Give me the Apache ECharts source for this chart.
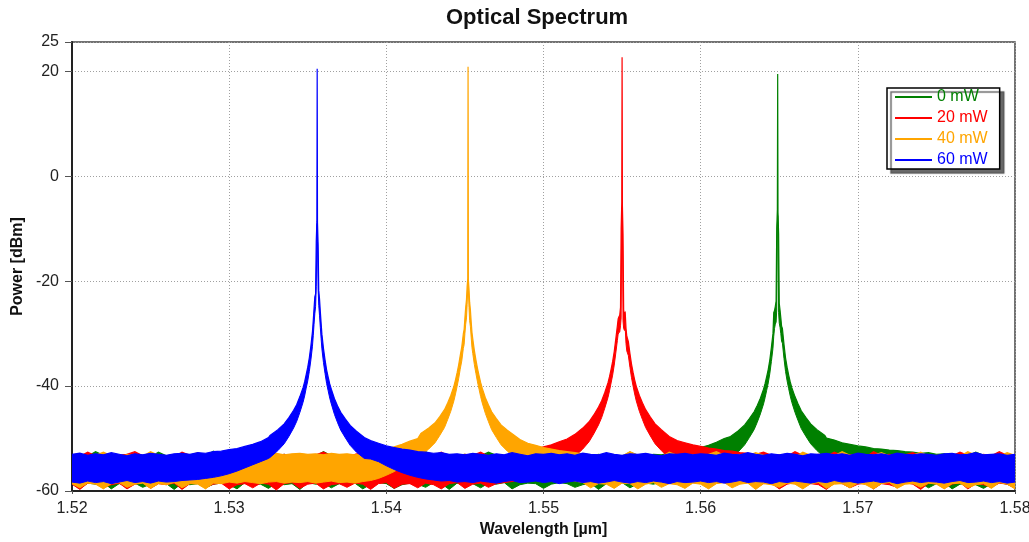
<!DOCTYPE html>
<html>
<head>
<meta charset="utf-8">
<title>Optical Spectrum</title>
<script src="https://cdn.jsdelivr.net/npm/echarts@6/dist/echarts.min.js"></script>
<style>
html, body { margin: 0; padding: 0; background: #fff; }
#main { width: 1029px; height: 542px; }
</style>
</head>
<body>
<div id="main"></div>
<script type="text/javascript">
// wavelength grid for the noise floor: 1.5200 .. 1.5800 step 0.0005 (121 points)
const wlStart = 1.52;
const wlStep = 0.0005;

const seriesNames = ['0 mW', '20 mW', '40 mW', '60 mW'];
const seriesColors = ['#008000', '#ff0000', '#ffa500', '#0000ff'];
const peakCenter = [1.5649, 1.5550, 1.5452, 1.5356];

// offsets (um) around each laser line where the spectrum is read more finely
const peakOffset = [-0.0030, -0.0025, -0.0021, -0.0018, -0.0015, -0.0013, -0.0011, -0.0009, -0.0008, -0.0007,
  -0.0006, -0.0005, -0.0004, -0.0003, -0.00025, -0.0002, -0.00015, -0.0001, -0.00006, -0.00002, 0,
  0.00002, 0.00006, 0.0001, 0.00015, 0.0002, 0.00025, 0.0003, 0.0004, 0.0005, 0.0006,
  0.0007, 0.0008, 0.0009, 0.0011, 0.0013, 0.0015, 0.0018, 0.0021, 0.0025, 0.0030];

// upper / lower edge of the noisy trace on the grid (null = covered by the peak detail)
const greenHi = [
  -53.3, -53.1, -53.4, -52.5, -53.2, -53.5, -53.3, -53.0, -53.4, -53.2,
  -53.5, -52.6, -53.3, -53.1, -53.4, -53.2, -53.5, -53.3, -52.4, -53.2,
  -53.4, -53.1, -53.3, -53.5, -52.7, -53.2, -53.4, -53.0, -53.3, -53.5,
  -53.2, -53.4, -52.5, -53.3, -53.1, -53.4, -53.2, -53.5, -53.0, -52.6,
  -53.3, -53.1, -53.4, -53.2, -53.5, -52.5, -53.3, -53.1, -53.4, -53.2,
  -53.0, -53.4, -53.3, -52.6, -53.2, -53.5, -53.1, -53.3, -53.4, -52.7,
  -53.2, -53.4, -53.1, -53.3, -52.5, -53.2, -53.4, -53.0, -53.3, -53.1,
  -53.4, -52.6, -53.2, -53.3, -53.0, -53.1, -52.8, -52.6, -52.3, -52.0,
  -51.7, -51.3, -50.7, -50.0, null, null, null, null, null, null,
  null, null, null, null, null, null, -49.9, -50.3, -50.8, -51.1,
  -51.4, -51.6, -51.9, -52.0, -52.2, -52.3, -52.5, -52.6, -52.8, -52.7,
  -53.0, -52.9, -53.2, -53.1, -53.3, -52.6, -53.2, -53.4, -53.1, -53.3,
  -53.2];
const greenLo = [
  -58.6, -59.5, -58.5, -58.7, -58.4, -59.6, -58.6, -58.8, -58.5, -59.3,
  -58.7, -58.4, -58.6, -59.7, -58.5, -58.8, -58.6, -59.4, -58.7, -58.5,
  -58.8, -59.6, -58.4, -58.6, -58.7, -59.5, -58.5, -58.8, -58.6, -59.7,
  -58.4, -58.7, -58.5, -59.4, -58.6, -58.8, -58.5, -59.6, -58.7, -58.4,
  -58.6, -59.5, -58.8, -58.5, -58.7, -59.3, -58.4, -58.6, -59.7, -58.5,
  -58.8, -58.6, -59.4, -58.5, -58.7, -58.4, -59.6, -58.8, -58.5, -58.6,
  -59.5, -58.7, -58.4, -58.6, -59.3, -58.8, -58.5, -59.7, -58.6, -58.7,
  -58.4, -59.4, -58.6, -58.5, -58.7, -58.3, -58.1, -57.8, -57.3, -56.8,
  -56.1, -55.4, -54.6, -53.8, null, null, null, null, null, null,
  null, null, null, null, null, null, -53.6, -54.2, -54.9, -55.5,
  -56.0, -56.5, -56.9, -57.3, -57.6, -57.9, -58.1, -58.3, -58.5, -59.4,
  -58.6, -58.4, -59.6, -58.7, -58.5, -58.8, -59.5, -58.6, -58.4, -58.7,
  -59.3];

const redHi = [
  -53.2, -53.4, -52.6, -53.3, -53.1, -53.5, -53.2, -53.0, -52.5, -53.3,
  -53.4, -53.1, -53.3, -53.5, -52.6, -53.2, -53.4, -53.1, -53.3, -53.0,
  -52.7, -53.4, -53.2, -53.5, -53.1, -52.5, -53.3, -53.0, -53.4, -53.2,
  -53.5, -53.1, -52.6, -53.3, -53.4, -53.2, -53.0, -52.7, -53.3, -53.1,
  -53.4, -53.2, -52.5, -53.3, -53.5, -53.1, -53.2, -52.6, -53.4, -53.3,
  -53.0, -53.2, -52.6, -53.4, -53.1, -53.3, -52.8, -52.6, -52.2, -52.0,
  -51.6, -51.2, -50.6, -50.1, null, null, null, null, null, null,
  null, null, null, null, null, null, null, -50.4, -50.8, -51.2,
  -51.5, -51.8, -52.0, -52.3, -52.4, -52.7, -52.8, -53.0, -52.6, -53.2,
  -53.1, -53.4, -52.5, -53.2, -53.3, -53.0, -53.4, -52.6, -53.2, -53.1,
  -53.3, -53.5, -52.5, -53.2, -53.0, -53.4, -53.1, -52.7, -53.3, -53.2,
  -53.5, -53.1, -53.3, -52.6, -53.2, -53.4, -53.0, -53.3, -52.5, -53.2,
  -53.4];
const redLo = [
  -58.7, -59.7, -58.5, -58.6, -59.4, -58.8, -58.5, -59.6, -58.7, -58.4,
  -59.5, -58.6, -58.8, -58.5, -59.7, -58.6, -58.4, -59.3, -58.7, -58.5,
  -59.6, -58.8, -58.6, -59.4, -58.5, -58.7, -59.8, -58.6, -58.4, -59.5,
  -58.7, -58.5, -59.6, -58.8, -58.6, -59.3, -58.5, -58.7, -59.7, -58.6,
  -58.4, -59.5, -58.7, -58.6, -59.4, -58.5, -58.8, -59.6, -58.6, -58.4,
  -59.5, -58.7, -58.5, -59.3, -58.6, -58.4, -58.2, -57.9, -57.5, -57.0,
  -56.4, -55.5, -54.6, -53.7, null, null, null, null, null, null,
  null, null, null, null, null, null, null, -53.9, -54.7, -55.5,
  -56.2, -56.7, -57.2, -57.6, -57.9, -58.2, -58.4, -59.4, -58.6, -58.5,
  -59.6, -58.7, -58.4, -59.3, -58.6, -58.8, -59.7, -58.5, -58.6, -59.4,
  -58.7, -58.5, -59.6, -58.6, -58.8, -59.3, -58.4, -58.7, -59.7, -58.5,
  -58.6, -59.5, -58.7, -58.4, -59.6, -58.6, -58.8, -59.3, -58.5, -58.7,
  -59.5];

const orangeHi = [
  -53.3, -53.1, -53.4, -53.2, -52.6, -53.3, -53.5, -53.1, -53.2, -53.4,
  -52.5, -53.2, -53.3, -53.1, -53.4, -53.2, -52.7, -53.3, -53.1, -53.4,
  -53.2, -53.0, -52.8, -53.1, -52.9, -53.0, -52.8, -53.1, -52.9, -52.8,
  -53.0, -52.9, -53.1, -52.8, -53.0, -52.9, -53.1, -52.8, -52.7, -52.3,
  -52.0, -51.6, -51.1, -50.5, -50.0, null, null, null, null, null,
  null, null, null, null, null, null, null, -50.2, -50.9, -51.3,
  -51.7, -52.0, -52.3, -52.5, -52.7, -52.9, -53.1, -53.2, -53.0, -53.3,
  -53.4, -52.5, -53.2, -53.1, -53.3, -53.5, -52.6, -53.2, -53.4, -53.1,
  -53.3, -53.0, -52.5, -53.2, -53.4, -53.1, -53.3, -52.7, -53.2, -53.4,
  -53.1, -53.3, -53.5, -52.6, -53.2, -53.0, -53.4, -53.3, -52.5, -53.2,
  -53.1, -53.4, -53.2, -52.7, -53.3, -53.5, -53.1, -53.2, -52.6, -53.4,
  -53.2, -53.3, -53.0, -53.4, -52.5, -53.2, -53.1, -53.3, -53.4, -52.7,
  -53.2];
const orangeLo = [
  -58.6, -59.4, -58.5, -58.7, -59.6, -58.6, -58.4, -59.3, -58.7, -58.5,
  -59.5, -58.6, -58.8, -58.4, -59.4, -58.6, -58.7, -59.6, -58.5, -58.6,
  -58.3, -58.5, -58.2, -58.4, -58.6, -58.3, -58.2, -58.5, -58.3, -58.4,
  -58.2, -58.5, -58.3, -58.1, -58.4, -58.3, -58.5, -58.2, -58.0, -57.6,
  -57.0, -56.3, -55.4, -54.5, -53.6, null, null, null, null, null,
  null, null, null, null, null, null, null, -53.8, -54.8, -55.6,
  -56.3, -56.9, -57.4, -57.8, -58.1, -58.4, -59.4, -58.6, -58.7, -59.5,
  -58.5, -58.6, -59.6, -58.7, -58.4, -59.3, -58.6, -58.8, -59.5, -58.5,
  -58.7, -59.6, -58.6, -58.4, -59.4, -58.7, -58.5, -59.7, -58.6, -58.8,
  -59.3, -58.5, -58.7, -59.6, -58.6, -58.4, -59.5, -58.7, -58.6, -59.4,
  -58.5, -58.8, -59.6, -58.6, -58.4, -59.5, -58.7, -58.6, -59.3, -58.5,
  -58.7, -59.6, -58.6, -58.5, -59.4, -58.8, -58.6, -59.5, -58.4, -58.7,
  -59.6];

const blueHi = [
  -53.0, -52.8, -53.2, -52.9, -53.1, -52.7, -53.0, -53.3, -52.9, -53.1,
  -52.8, -53.0, -53.2, -52.9, -52.8, -53.0, -52.7, -52.8, -52.5, -52.4,
  -52.1, -51.9, -51.5, -51.1, -50.6, -49.8, null, null, null, null,
  null, null, null, null, null, null, null, null, -50.4, -50.9,
  -51.4, -51.7, -52.0, -52.2, -52.5, -52.6, -52.8, -52.7, -53.0, -52.9,
  -53.1, -52.8, -53.0, -53.2, -52.9, -53.1, -52.7, -53.0, -53.3, -52.9,
  -53.0, -52.8, -53.1, -52.9, -53.2, -52.8, -53.0, -53.1, -52.7, -53.0,
  -53.2, -52.9, -53.0, -52.8, -53.1, -53.3, -52.9, -53.0, -52.8, -53.1,
  -52.9, -53.0, -53.2, -52.8, -53.0, -53.1, -52.7, -53.0, -53.2, -52.9,
  -53.1, -52.8, -53.0, -53.3, -52.9, -53.0, -52.8, -53.1, -52.9, -53.2,
  -52.8, -53.0, -53.1, -52.9, -53.2, -52.8, -53.0, -53.1, -52.9, -53.0,
  -53.2, -52.9, -52.8, -53.1, -53.0, -52.7, -53.1, -53.0, -52.9, -53.2,
  -53.0];
const blueLo = [
  -58.3, -58.5, -58.1, -58.4, -58.2, -58.6, -58.3, -58.0, -58.4, -58.2,
  -58.5, -58.1, -58.3, -58.2, -58.0, -57.9, -57.8, -57.6, -57.4, -57.1,
  -56.7, -56.2, -55.6, -55.0, -54.4, -53.8, null, null, null, null,
  null, null, null, null, null, null, null, null, -53.9, -54.4,
  -55.2, -55.9, -56.5, -57.0, -57.4, -57.7, -57.9, -58.1, -58.0, -58.3,
  -58.2, -58.4, -58.1, -58.3, -58.5, -58.2, -58.0, -58.4, -58.3, -58.1,
  -58.4, -58.2, -58.6, -58.3, -58.1, -58.4, -58.2, -58.5, -58.3, -58.0,
  -58.3, -58.5, -58.2, -58.4, -58.1, -58.3, -58.6, -58.2, -58.4, -58.3,
  -58.1, -58.4, -58.2, -58.5, -58.3, -58.0, -58.4, -58.2, -58.3, -58.6,
  -58.2, -58.4, -58.1, -58.3, -58.5, -58.2, -58.4, -58.0, -58.3, -58.2,
  -58.5, -58.3, -58.1, -58.4, -58.2, -58.6, -58.3, -58.1, -58.4, -58.2,
  -58.3, -58.5, -58.2, -58.0, -58.4, -58.3, -58.1, -58.4, -58.2, -58.5,
  -58.3];

// upper / lower edge around each line, one value per peakOffset
const greenPeakHi = [-49.6, -48.5, -47.4, -46.2, -44.9, -43.7, -42.3, -40.6, -39.5, -38.2, -36.8, -35.0, -32.6, -30.0,
  -26.0, -25.6, -24.8, -23.8, -10.0, -6.3, 19.5, -6.8, -11.0, -24.2, -25.5, -27.0, -28.6, -29.0, -32.0, -34.6,
  -36.4, -37.9, -39.2, -40.3, -42.0, -43.4, -44.7, -46.0, -47.2, -48.3, -49.4];
const greenPeakLo = [-53.8, -52.5, -51.2, -49.8, -48.3, -46.9, -45.3, -43.4, -42.2, -40.8, -39.4, -37.6, -35.3, -32.8,
  -30.5, -29.0, -28.2, -27.8, -25.5, -9.5, -7.5, -10.0, -26.0, -28.0, -28.8, -30.0, -31.5, -31.8, -34.7, -37.2,
  -39.0, -40.5, -41.9, -43.1, -45.0, -46.6, -48.1, -49.6, -51.0, -52.3, -53.6];
const redPeakHi = [-49.2, -48.0, -46.8, -45.5, -44.0, -42.8, -41.2, -39.4, -38.2, -36.8, -35.3, -33.4, -31.0, -28.5,
  -27.2, -26.8, -26.5, -25.0, -10.0, -5.0, 22.7, -5.5, -11.0, -25.5, -26.2, -26.0, -29.0, -30.5, -31.5, -33.8,
  -35.8, -37.4, -38.8, -40.0, -41.8, -43.2, -44.5, -45.9, -47.2, -48.3, -49.6];
const redPeakLo = [-53.4, -52.0, -50.6, -49.1, -47.4, -46.0, -44.2, -42.2, -40.9, -39.4, -37.9, -36.0, -33.7, -31.3,
  -30.1, -29.8, -29.7, -28.5, -27.0, -8.0, -6.0, -8.5, -27.5, -29.0, -29.4, -29.0, -31.9, -33.3, -34.2, -36.4,
  -38.4, -40.0, -41.5, -42.8, -44.8, -46.4, -47.9, -49.5, -51.0, -52.3, -53.8];
const orangePeakHi = [-49.0, -48.0, -47.0, -45.8, -44.5, -43.2, -41.8, -40.0, -38.8, -37.5, -36.0, -34.2, -32.5, -30.0,
  -29.2, -27.0, -25.0, -23.5, -21.0, -19.5, 20.9, -19.8, -21.5, -24.0, -25.5, -27.8, -29.8, -31.0, -33.2, -35.0,
  -36.6, -38.0, -39.3, -40.4, -42.2, -43.6, -44.9, -46.2, -47.4, -48.4, -49.5];
const orangePeakLo = [-53.2, -52.0, -50.8, -49.4, -47.9, -46.4, -44.8, -42.8, -41.5, -40.1, -38.6, -36.8, -35.2, -32.8,
  -32.1, -30.0, -28.2, -27.0, -24.5, -21.5, -20.0, -21.8, -25.0, -27.5, -28.7, -30.8, -32.7, -33.8, -35.9, -37.6,
  -39.2, -40.6, -42.0, -43.2, -45.2, -46.8, -48.3, -49.8, -51.2, -52.4, -53.7];
const bluePeakHi = [-49.4, -48.3, -47.2, -46.0, -44.6, -43.5, -42.0, -40.3, -39.2, -37.8, -36.4, -34.6, -32.3, -29.6,
  -27.5, -25.2, -23.0, -22.4, -12.5, -8.6, 20.5, -8.8, -13.0, -21.8, -23.4, -25.8, -28.0, -30.1, -32.8, -35.0,
  -36.9, -38.3, -39.6, -40.6, -42.4, -43.8, -45.0, -46.3, -47.5, -48.6, -49.8];
const bluePeakLo = [-53.6, -52.3, -51.0, -49.6, -48.0, -46.7, -45.0, -43.1, -41.9, -40.4, -39.0, -37.2, -35.0, -32.4,
  -30.4, -28.2, -26.2, -24.8, -21.0, -12.0, -9.0, -12.5, -21.5, -24.6, -26.6, -28.8, -30.9, -32.9, -35.5, -37.6,
  -39.5, -40.9, -42.3, -43.4, -45.4, -47.0, -48.4, -49.9, -51.3, -52.6, -53.8];

const gridHi = [greenHi, redHi, orangeHi, blueHi];
const gridLo = [greenLo, redLo, orangeLo, blueLo];
const peakHi = [greenPeakHi, redPeakHi, orangePeakHi, bluePeakHi];
const peakLo = [greenPeakLo, redPeakLo, orangePeakLo, bluePeakLo];

const yMin = -60, yMax = 25.6, yStep = 20;
const xMin = 1.52, xMax = 1.58, xStep = 0.01;

const fontFam = '"Liberation Sans", Arial, sans-serif';

// merge grid points and peak points of one trace, sorted by wavelength
function buildTrace(s) {
  const pts = [];
  for (let i = 0; i < gridHi[s].length; i++) {
    if (gridHi[s][i] === null) continue;
    pts.push([wlStart + i * wlStep, gridHi[s][i], gridLo[s][i]]);
  }
  for (let k = 0; k < peakOffset.length; k++) {
    pts.push([peakCenter[s] + peakOffset[k], peakHi[s][k], peakLo[s][k]]);
  }
  pts.sort(function (a, b) { return a[0] - b[0]; });
  return pts;
}

// each trace is drawn as the band between its upper and lower edge
const series = seriesNames.map(function (name, s) {
  const pts = buildTrace(s);
  const col = seriesColors[s];
  return {
    name: name,
    type: 'custom',
    silent: true,
    animation: false,
    itemStyle: { color: col },
    data: [[peakCenter[s], peakHi[s][20]]],
    renderItem: function (params, api) {
      const top = pts.map(function (p) { return api.coord([p[0], p[1]]); });
      const bot = pts.map(function (p) { return api.coord([p[0], p[2]]); }).reverse();
      return {
        type: 'group',
        children: [
          { type: 'polygon', shape: { points: top.concat(bot) }, style: { fill: col } },
          { type: 'polyline', shape: { points: top }, style: { stroke: col, lineWidth: 1.2, fill: null } },
          { type: 'polyline', shape: { points: bot }, style: { stroke: col, lineWidth: 1, fill: null } }
        ]
      };
    }
  };
});

const myChart = echarts.init(document.getElementById('main'));
myChart.setOption({
  animation: false,
  backgroundColor: '#ffffff',
  textStyle: { fontFamily: fontFam },
  title: {
    text: 'Optical Spectrum',
    left: 441, top: 2,
    textStyle: { fontSize: 22, fontWeight: 'bold', color: '#111', fontFamily: fontFam }
  },
  grid: {
    left: 72, right: 14, top: 42, bottom: 51,
    show: true, borderColor: '#444', borderWidth: 1.5,
    containLabel: false, outerBoundsMode: 'none'
  },
  legend: {
    left: 887, top: 88, orient: 'vertical',
    selectedMode: false,
    icon: 'rect', itemWidth: 37, itemHeight: 2, itemGap: 5,
    padding: [1, 12, 1, 8],
    backgroundColor: '#ffffff', borderColor: '#000', borderWidth: 1.5, borderRadius: 0,
    shadowColor: 'rgba(90,90,90,0.9)', shadowBlur: 1, shadowOffsetX: 4, shadowOffsetY: 4,
    textStyle: { fontSize: 16, lineHeight: 16, fontFamily: fontFam },
    data: seriesNames.map(function (n, s) {
      return { name: n, textStyle: { color: seriesColors[s] } };
    })
  },
  xAxis: {
    type: 'value', min: xMin, max: xMax, interval: xStep,
    name: 'Wavelength [µm]', nameLocation: 'middle', nameGap: 27,
    nameTextStyle: { fontSize: 16, fontWeight: 'bold', color: '#111', fontFamily: fontFam },
    axisLine: { show: true, onZero: false, lineStyle: { color: '#222', width: 2 } },
    axisTick: { show: true, length: 3, lineStyle: { color: '#555' } },
    axisLabel: { fontSize: 16, color: '#222', margin: 10, formatter: function (v) { return v.toFixed(2); } },
    splitLine: { show: true, lineStyle: { color: '#a0a0a0', width: 1, type: [1, 2] } }
  },
  yAxis: {
    type: 'value', min: yMin, max: yMax, interval: yStep,
    name: 'Power [dBm]', nameLocation: 'middle', nameGap: 46, nameMoveOverlap: false,
    nameTextStyle: { fontSize: 16, fontWeight: 'bold', color: '#111', fontFamily: fontFam },
    axisLine: { show: true, onZero: false, lineStyle: { color: '#222', width: 2 } },
    axisTick: { show: true, length: 7, lineStyle: { color: '#555' } },
    axisLabel: { fontSize: 16, color: '#222', margin: 13,
      formatter: function (v) { return v > 25 ? '25' : String(Math.round(v)); } },
    splitLine: { show: true, lineStyle: { color: '#a0a0a0', width: 1, type: [1, 2] } }
  },
  series: series
});
</script>
</body>
</html>
